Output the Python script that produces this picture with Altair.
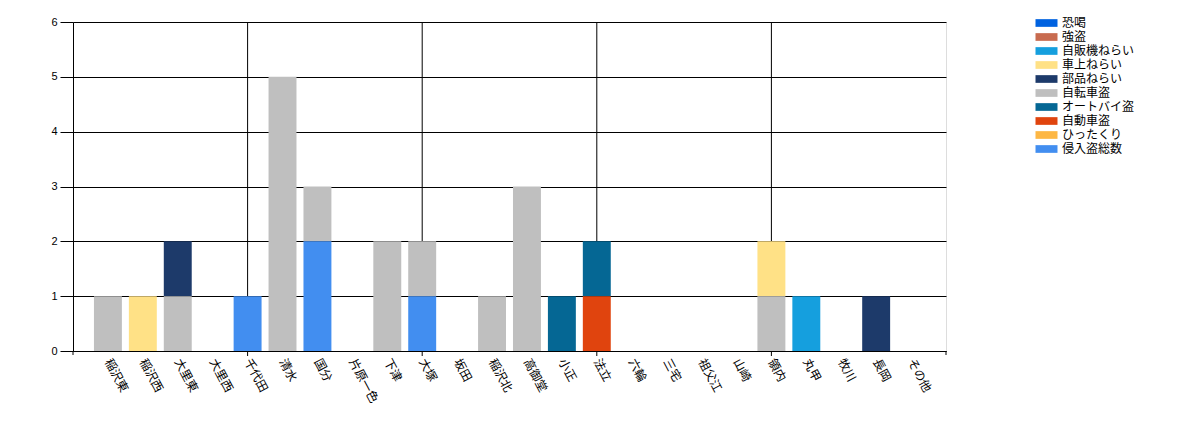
import altair as alt
import pandas as pd

areas = ["稲沢東", "稲沢西", "大里東", "大里西", "千代田", "清水", "国分", "片原一色",
         "下津", "大塚", "坂田", "稲沢北", "高御堂", "小正", "法立", "六輪", "三宅",
         "祖父江", "山崎", "領内", "丸甲", "牧川", "長岡", "その他"]

crimes = ["恐喝", "強盗", "自販機ねらい", "車上ねらい", "部品ねらい", "自転車盗",
          "オートバイ盗", "自動車盗", "ひったくり", "侵入盗総数"]
colors = ["#0062E0", "#C86B4F", "#159FDE", "#FFE186", "#1D3A6A", "#BFBFBF",
          "#056794", "#E0440E", "#FDB744", "#428EF0"]

kyokatsu   = [0] * 24
goto       = [0] * 24
jihanki    = [0,0,0,0,0,0,0,0,0,0,0,0,0,0,0,0,0,0,0,0,1,0,0,0]
shajo      = [0,1,0,0,0,0,0,0,0,0,0,0,0,0,0,0,0,0,0,1,0,0,0,0]
buhin      = [0,0,1,0,0,0,0,0,0,0,0,0,0,0,0,0,0,0,0,0,0,0,1,0]
jitensha   = [1,0,1,0,0,5,1,0,2,1,0,1,3,0,0,0,0,0,0,1,0,0,0,0]
autobike   = [0,0,0,0,0,0,0,0,0,0,0,0,0,1,1,0,0,0,0,0,0,0,0,0]
jidosha    = [0,0,0,0,0,0,0,0,0,0,0,0,0,0,1,0,0,0,0,0,0,0,0,0]
hittakuri  = [0] * 24
shinnyu    = [0,0,0,0,1,0,2,0,0,1,0,0,0,0,0,0,0,0,0,0,0,0,0,0]

series = [kyokatsu, goto, jihanki, shajo, buhin, jitensha, autobike, jidosha, hittakuri, shinnyu]

grid_areas = ["千代田", "大塚", "法立", "領内"]

rows = []
for ci, (name, vals) in enumerate(zip(crimes, series)):
    for a, v in zip(areas, vals):
        if v > 0:
            rows.append({"area": a, "crime": name, "count": v, "ord": len(crimes) - ci})
df = pd.DataFrame(rows)

W, H = 873, 329

xscale = alt.Scale(domain=areas, paddingInner=0.2, paddingOuter=0.6)

# wide flat rectangle: sqrt(size)=11 -> half-unit 5.5px; spans -5.5..16.5 x, +-3.9 y
rect_path = "M-1,-0.7H3V0.7H-1Z"

grid = alt.Chart(pd.DataFrame({"area": grid_areas})).mark_rule(color="black", strokeWidth=1).encode(
    x=alt.X("area:N", scale=xscale, axis=None),
    y=alt.value(0),
    y2=alt.value(H + 5),
)

edges = alt.Chart(pd.DataFrame({"px": [0, W]})).mark_rule(color="black", strokeWidth=1).encode(
    x=alt.X("px:Q", scale=alt.Scale(domain=[0, W], range=[0, W]), axis=None),
    y=alt.value(H),
    y2=alt.value(H + 4),
)

bars = alt.Chart(df).mark_bar().encode(
    x=alt.X("area:N", scale=xscale, sort=areas,
            axis=alt.Axis(title=None, labelAngle=62, labelAlign="left", labelBaseline="middle",
                          labelPadding=8, ticks=False, domain=True, domainColor="black",
                          labelFont="Noto Sans CJK JP", labelFontSize=12, labelColor="black",
                          grid=False, labelOverlap=False)),
    y=alt.Y("sum(count):Q", stack="zero", scale=alt.Scale(domain=[0, 6], nice=False),
            axis=alt.Axis(title=None, values=[0, 1, 2, 3, 4, 5, 6], grid=True, gridColor="black",
                          gridOpacity=1, domainColor="black", tickColor="black", tickSize=13,
                          labelFont="Liberation Sans", labelFontSize=11, labelColor="black",
                          labelPadding=3)),
    color=alt.Color("crime:N", scale=alt.Scale(domain=crimes, range=colors),
                    legend=alt.Legend(title=None, orient="none", legendX=962, legendY=-5,
                                      symbolType=rect_path, symbolSize=121, symbolStrokeWidth=0,
                                      symbolOpacity=1, labelFont="Noto Sans CJK JP", labelFontSize=12,
                                      labelColor="black", labelOffset=15, rowPadding=2)),
    order=alt.Order("ord:Q", sort="ascending"),
)

chart = alt.layer(grid, edges, bars).resolve_scale(x="shared").properties(
    width=W, height=H,
    autosize=alt.AutoSizeParams(type="none"),
    padding={"left": 65, "top": 14, "right": 224, "bottom": 68},
).configure_view(stroke="black", strokeWidth=1).configure(background="white")

chart.save("out.html", embed_options={"renderer": "svg", "actions": False})
